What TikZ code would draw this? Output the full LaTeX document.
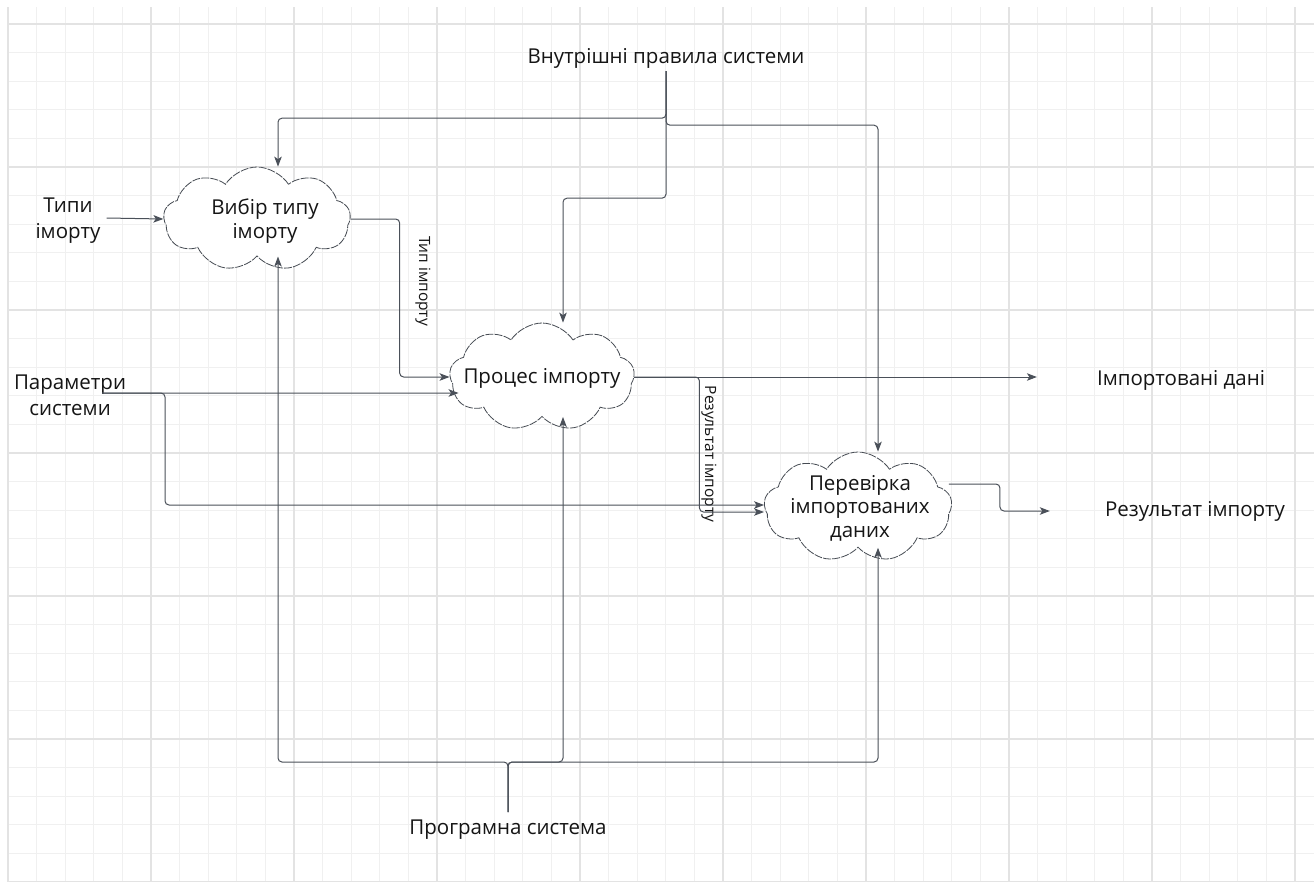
\documentclass[tikz,border=0pt]{standalone}
\usepackage{fontspec}
\setmainfont{Open Sans}
\usetikzlibrary{shapes.symbols,arrows.meta,calc}

\definecolor{gridminor}{HTML}{F0F0F0}
\definecolor{gridmajor}{HTML}{E3E3E3}
\definecolor{linec}{HTML}{4A5059}
\definecolor{cloudc}{HTML}{454A52}
\definecolor{textc}{HTML}{151515}

\begin{document}
\begin{tikzpicture}[x=1pt,y=-1pt,
  txt/.style={text=textc, font=\fontsize{20.5}{26}\selectfont, align=center, inner sep=2pt},
  ctxt/.style={txt, font=\fontsize{20.5}{23.5}\selectfont},
  small/.style={text=textc, font=\fontsize{15.5}{18}\selectfont, inner sep=1pt},
  proc/.style={cloud, cloud puffs=9, cloud puff arc=115, draw=cloudc, line width=0.8pt,
    dash pattern=on 8pt off 1.2pt, fill=white, inner sep=0pt},
  conn/.style={draw=linec, line width=1pt, rounded corners=4pt,
    -{Stealth[length=10pt,width=7.5pt,inset=2.5pt]}},
  gminor/.style={draw=gridminor, line width=1pt},
  gmajor/.style={draw=gridmajor, line width=1.2pt}
]
\useasboundingbox[fill=white] (0,0) rectangle (1314,881);

% background grid
\foreach \i in {0,...,45}{\draw[gminor] ({8+28.6*\i},7) -- ({8+28.6*\i},881);}
\foreach \j in {0,...,30}{\draw[gminor] (7,{24+28.6*\j}) -- (1314,{24+28.6*\j});}
\foreach \i in {0,...,9}{\draw[gmajor] ({8+143*\i},7) -- ({8+143*\i},881);}
\foreach \j in {0,...,6}{\draw[gmajor] (7,{24+143*\j}) -- (1314,{24+143*\j});}

% processes
\node[proc, minimum width=187pt, minimum height=104pt] (c1) at (257,219) {};
\node[proc, minimum width=185pt, minimum height=108pt] (c2) at (542,377) {};
\node[proc, minimum width=188pt, minimum height=110pt] (c3) at (858,507) {};
\node[ctxt] (t1) at (265,221) {Вибір типу\\іморту};
\node[ctxt] (t2) at (542,378) {Процес імпорту};
\node[ctxt] (t3) at (860,508) {Перевірка\\імпортованих\\даних};

% inputs, outputs, controls and mechanisms
\node[txt] (rules) at (666,58) {Внутрішні правила системи};
\node[txt] (tipy) at (68,221) {Типи\\іморту};
\node[txt] (params) at (70,395) {Параметри\\системи};
\node[txt] (imp) at (1181,380) {Імпортовані дані};
\node[txt] (res) at (1195,511) {Результат імпорту};
\node[txt] (prog) at (508,830) {Програмна система};

% edge labels
\node[small, rotate=-90] (l1) at (423,281) {Тип імпорту};
\node[small, rotate=-90] (l2) at (709,454) {Результат імпорту};

% controls
\draw[conn] ($(rules.south)+(0,1)$) -- ++(0,47) -| ($(c1.north)+(21,0)$);
\draw[conn] ($(rules.south)+(0,1)$) -- ++(0,54) -| ($(c3.north)+(20,0)$);
\draw[conn] ($(rules.south)+(0,1)$) -- ++(0,127) -| ($(c2.north)+(21,0)$);

% mechanisms
\draw[conn] ($(prog.north)+(0,-6)$) -- ++(0,-50) -| ($(c1.south)+(21,0)$);
\draw[conn] ($(prog.north)+(0,-6)$) -- ++(0,-50) -| ($(c2.south)+(21,0)$);
\draw[conn] ($(prog.north)+(0,-6)$) -- ++(0,-50) -| ($(c3.south)+(20,0)$);

% inputs
\draw[conn] ($(tipy.east)+(4,-3)$) -- (c1.west);
\coordinate (pstart) at ($(params.center)+(32,-2)$);
\draw[conn] (pstart) -- ($(c2.west)+(9,16)$);
\draw[conn] (pstart) -- ++(63,0) |- ($(c3.west)+(0,-2)$);

% flows between processes
\draw[conn] (c1.east) -- ++(49,0) |- (c2.west);
\draw[conn] (c2.east) -- ++(65,0) |- ($(c3.west)+(0,5)$);

% outputs
\draw[conn] (c2.east) -- ($(c2.east -| imp.west)+(-58,0)$);
\draw[conn] ($(c3.east)+(-3,-23)$) -- ++(51,0) |- ($(res.west)+(-53,0)$);
\end{tikzpicture}
\end{document}
